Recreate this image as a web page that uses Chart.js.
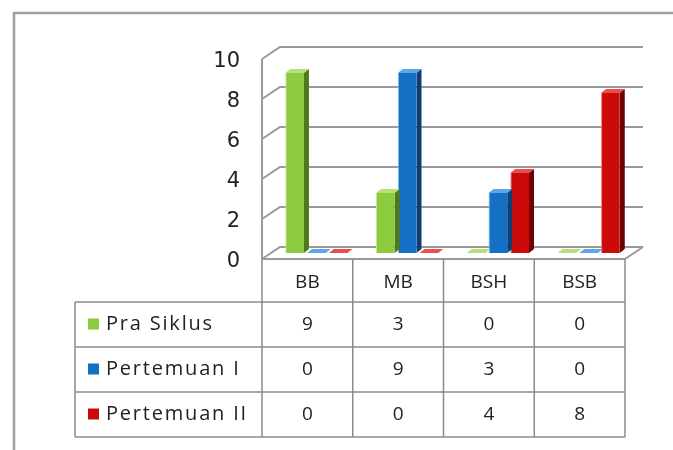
<!DOCTYPE html>
<html>
<head>
<meta charset="utf-8">
<script src="https://cdn.jsdelivr.net/npm/chart.js@4/dist/chart.umd.min.js"></script>
<style>
html,body{margin:0;padding:0;background:#fff;}
#wrap{position:relative;width:673px;height:450px;}
</style>
</head>
<body>
<div id="wrap"><canvas id="c"></canvas></div>
<script>
const categories = ['BB', 'MB', 'BSH', 'BSB'];
const seriesNames = ['Pra Siklus', 'Pertemuan I', 'Pertemuan II'];
const praSiklus = [9, 3, 0, 0];
const pertemuan1 = [0, 9, 3, 0];
const pertemuan2 = [0, 0, 4, 8];
const yMin = 0, yMax = 10, yStep = 2;

const colors = ['#8DCB3E', '#1470C4', '#CC0A0A'];
const edgeColors = ['#C8EC98', '#7FC0F0', '#FF8080'];
const sideColors = ['#4F7A1C', '#0B3F75', '#6E0000'];
const topColors = ['#B5E07A', '#5FA6E6', '#E85050'];

// 3D geometry
const WALL_DX = 18, WALL_DY = 12;   // wall depth
const BAR_DX = 5, BAR_DY = 4;       // bar depth

const threeD = {
  id: 'threeD',
  beforeDatasetsDraw(chart) {
    const ctx = chart.ctx, y = chart.scales.y, a = chart.chartArea;
    const fl = a.left - WALL_DX / 2, fr = a.right - WALL_DX / 2;
    ctx.save();
    ctx.strokeStyle = '#9a9a9a';
    ctx.lineWidth = 2;
    for (let v = yMin; v <= yMax; v += yStep) {
      const py = y.getPixelForValue(v);
      ctx.beginPath();
      ctx.moveTo(fl, py + WALL_DY / 2);
      ctx.lineTo(fl + WALL_DX, py - WALL_DY / 2);
      ctx.lineTo(fr + WALL_DX, py - WALL_DY / 2);
      ctx.stroke();
    }
    ctx.beginPath();
    ctx.moveTo(fl, y.getPixelForValue(yMax) + WALL_DY / 2);
    ctx.lineTo(fl, y.getPixelForValue(yMin) + WALL_DY / 2);
    ctx.stroke();
    const p0 = y.getPixelForValue(0);
    ctx.beginPath();
    ctx.moveTo(fl, p0 + WALL_DY / 2);
    ctx.lineTo(fr, p0 + WALL_DY / 2);
    ctx.lineTo(fr + WALL_DX, p0 - WALL_DY / 2);
    ctx.stroke();
    ctx.restore();
  },
  afterDatasetsDraw(chart) {
    const ctx = chart.ctx;
    ctx.save();
    chart.data.datasets.forEach((ds, di) => {
      const meta = chart.getDatasetMeta(di);
      meta.data.forEach(bar => {
        const p = bar.getProps(['x', 'y', 'base', 'width'], true);
        const l = p.x - p.width / 2, r = p.x + p.width / 2;
        ctx.fillStyle = topColors[di];
        ctx.beginPath();
        ctx.moveTo(l, p.y);
        ctx.lineTo(l + BAR_DX, p.y - BAR_DY);
        ctx.lineTo(r + BAR_DX, p.y - BAR_DY);
        ctx.lineTo(r, p.y);
        ctx.closePath();
        ctx.fill();
        ctx.fillStyle = sideColors[di];
        ctx.beginPath();
        ctx.moveTo(r, p.y);
        ctx.lineTo(r + BAR_DX, p.y - BAR_DY);
        ctx.lineTo(r + BAR_DX, p.base - BAR_DY);
        ctx.lineTo(r, p.base);
        ctx.closePath();
        ctx.fill();
      });
    });
    ctx.restore();
  },
  afterDraw(chart) {
    const ctx = chart.ctx, x = chart.scales.x, y = chart.scales.y, a = chart.chartArea;
    const catW = (a.right - a.left) / categories.length;
    const off = WALL_DX / 2;
    const colL = i => x.getPixelForValue(i) - catW / 2 - off;
    const top = y.getPixelForValue(0) + WALL_DY / 2;
    const hdrB = 302;
    const rowH = 45;
    const leftX = 75;
    const right = colL(categories.length - 1) + catW;
    ctx.save();
    ctx.strokeStyle = '#8a8a8a';
    ctx.lineWidth = 1.5;
    for (let i = 0; i <= categories.length; i++) {
      const cx = i < categories.length ? colL(i) : right;
      ctx.beginPath();
      ctx.moveTo(cx, top);
      ctx.lineTo(cx, hdrB + rowH * seriesNames.length);
      ctx.stroke();
    }
    ctx.beginPath();
    ctx.moveTo(leftX, hdrB);
    ctx.lineTo(leftX, hdrB + rowH * seriesNames.length);
    ctx.stroke();
    for (let r = 0; r <= seriesNames.length; r++) {
      const yy = hdrB + rowH * r;
      ctx.beginPath();
      ctx.moveTo(leftX, yy);
      ctx.lineTo(right, yy);
      ctx.stroke();
    }
    ctx.fillStyle = '#222';
    ctx.textAlign = 'center';
    ctx.textBaseline = 'middle';
    ctx.font = '19px "Open Sans"';
    categories.forEach((c, i) => ctx.fillText(c, colL(i) + catW / 2, (top + hdrB) / 2 + 2));
    const series = [praSiklus, pertemuan1, pertemuan2];
    series.forEach((vals, r) => {
      const cy = hdrB + rowH * r + rowH / 2;
      ctx.fillStyle = colors[r];
      ctx.fillRect(88, cy - 6, 11, 11);
      ctx.fillStyle = '#222';
      ctx.textAlign = 'left';
      ctx.font = '20px "Open Sans"';
      ctx.letterSpacing = '1.8px';
      ctx.fillText(seriesNames[r], 106, cy);
      ctx.letterSpacing = '0px';
      ctx.textAlign = 'center';
      ctx.font = '19px "Open Sans"';
      vals.forEach((v, i) => ctx.fillText(String(v), colL(i) + catW / 2, cy));
    });
    ctx.strokeStyle = '#a0a0a0';
    ctx.lineWidth = 2.5;
    ctx.beginPath();
    ctx.moveTo(14, 450);
    ctx.lineTo(14, 13);
    ctx.lineTo(673, 13);
    ctx.stroke();
    ctx.restore();
  }
};

const datasets = [praSiklus, pertemuan1, pertemuan2].map((d, i) => ({
  label: seriesNames[i],
  data: d,
  backgroundColor: colors[i],
  borderColor: edgeColors[i],
  borderWidth: {left: 1, right: 0, top: 0, bottom: 0},
  barPercentage: 0.86,
  categoryPercentage: 0.72
}));

new Chart(document.getElementById('c'), {
  type: 'bar',
  data: { labels: categories, datasets },
  options: {
    responsive: true,
    maintainAspectRatio: false,
    animation: false,
    layout: { padding: { left: 0, top: 53, right: 39, bottom: 197 } },
    plugins: { legend: { display: false }, tooltip: { enabled: false }, title: { display: false } },
    scales: {
      x: { display: false },
      y: {
        min: yMin, max: yMax,
        afterFit: s => { s.width = 271; },
        grid: { display: false, drawTicks: false },
        border: { display: false },
        ticks: {
          stepSize: yStep,
          padding: 31,
          labelOffset: 9,
          color: '#222',
          font: { family: 'DejaVu Sans', size: 21 }
        }
      }
    }
  },
  plugins: [threeD]
});
</script>
</body>
</html>
